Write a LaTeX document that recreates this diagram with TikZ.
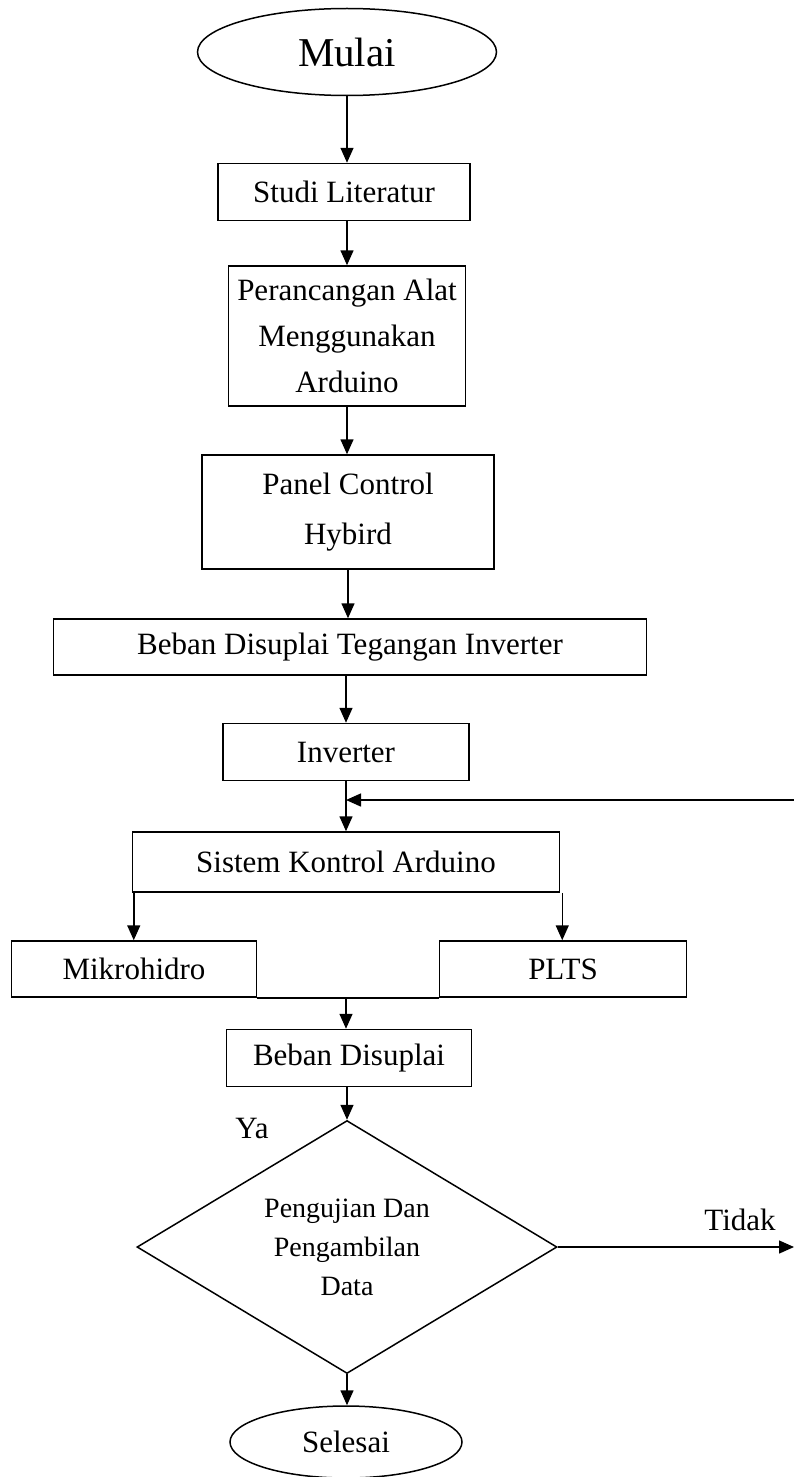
\documentclass[tikz,border=0pt]{standalone}
\usepackage{fontspec}
\setmainfont{Liberation Serif}
\usetikzlibrary{arrows.meta,shapes.geometric}
\tikzset{
	box/.style={draw, line width=1.5pt, inner sep=0pt, align=center, font=\fontsize{31}{42}\selectfont},
	term/.style={box, ellipse},
	cond/.style={box, diamond, shape aspect=1.66, font=\fontsize{28}{39}\selectfont},
	lbl/.style={inner sep=0pt, font=\fontsize{31}{36}\selectfont},
	arr/.style={line width=1.5pt, -{Triangle[length=15pt,width=13pt]}},
}
\begin{document}
\begin{tikzpicture}[x=1pt, y=-1pt]
	\useasboundingbox (0,0) rectangle (794,1477);
	\node[term, minimum width=299, minimum height=87, font=\fontsize{41}{48}\selectfont] (mulai) at (347,52) {Mulai};
	\node[box, minimum width=252, minimum height=57] (studi) at (344,192) {Studi Literatur};
	\node[box, minimum width=237, minimum height=140, font=\fontsize{31}{46}\selectfont] (peran) at (347,336) {Perancangan Alat\\Menggunakan\\Arduino};
	\node[box, minimum width=292, minimum height=114, font=\fontsize{31}{50}\selectfont] (panel) at (348,512) {Panel Control\\Hybird};
	\node[box, minimum width=593, minimum height=56] (bdti) at (350,647) {Beban Disuplai Tegangan Inverter};
	\node[box, minimum width=246, minimum height=57] (inv) at (346,752) {Inverter};
	\node[box, minimum width=427, minimum height=60] (sistem) at (346,862) {Sistem Kontrol Arduino};
	\node[box, minimum width=245, minimum height=56] (mikro) at (134,969) {Mikrohidro};
	\node[box, minimum width=247, minimum height=56] (plts) at (563,969) {PLTS};
	\node[box, minimum width=245, minimum height=57] (beban) at (349,1058) {Beban Disuplai};
	\node[cond, minimum width=420, minimum height=253] (uji) at (347,1247) {Pengujian Dan\\Pengambilan\\Data};
	\node[term, minimum width=232, minimum height=72] (selesai) at (346,1442) {Selesai};
	\node[lbl] (ya) at (252,1128) {Ya};
	\node[lbl] (tidak) at (740,1220) {Tidak};
	\coordinate (back) at (794,800);
	\coordinate (keluar) at (794,1247);

	\draw[arr] (mulai.south) -- (mulai.south |- studi.north);
	\draw[arr] (studi.south -| mulai.south) -- (mulai.south |- peran.north);
	\draw[arr] (peran.south) -- (peran.south |- panel.north);
	\draw[arr] (panel.south) -- (panel.south |- bdti.north);
	\draw[arr] (inv.south |- bdti.south) -- (inv.north);
	\draw[arr] (inv.south) -- (inv.south |- sistem.north);
	\draw[arr] (back) -- (back -| inv.south);
	\draw[arr] ([xshift=2pt]sistem.south west) -- ([xshift=2pt]sistem.south west |- mikro.north);
	\draw[arr] ([xshift=2pt]sistem.south east) -- ([xshift=2pt]sistem.south east |- plts.north);
	\draw[line width=1.5pt] (mikro.south east) -- (plts.south west);
	\draw[arr] (inv.south |- mikro.south) -- (inv.south |- beban.north);
	\draw[arr] (beban.south -| uji.north) -- (uji.north);
	\draw[arr] (uji.east) -- (keluar);
	\draw[arr] (uji.south) -- (uji.south |- selesai.north);
\end{tikzpicture}
\end{document}
